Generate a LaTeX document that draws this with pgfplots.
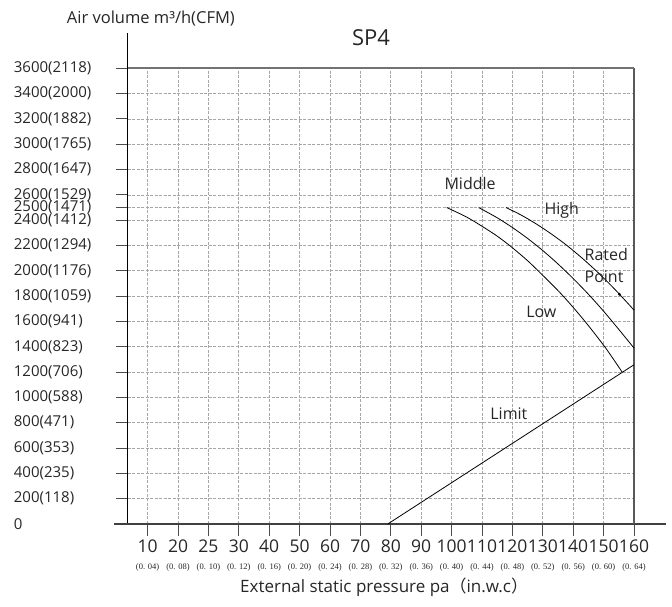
\documentclass[border=0pt]{standalone}
\usepackage{pgfplots}
\pgfplotsset{compat=1.18}
\usepackage{fontspec}
\setmainfont{Open Sans}
\newfontfamily\serifsmall{Liberation Serif}
\newfontfamily\cjk{Noto Sans CJK SC}
\newcommand{\sm}{\serifsmall\fontsize{8.5}{9}\selectfont}
\begin{document}
\begin{tikzpicture}[x=1pt,y=1pt]
\path[use as bounding box] (0,0) rectangle (672,607);
\node[anchor=base west, font=\fontsize{16.5}{19}\selectfont, text=black!85, inner sep=0pt] at (66.7,583) {Air volume m³/h(CFM)};
\node[font=\fontsize{22}{26}\selectfont, text=black!85] at (371,569) {SP4};
\node[anchor=base west, font=\fontsize{17}{19}\selectfont, text=black!85, inner sep=0pt] at (240,14) {External static pressure pa{\cjk （}in.w.c{\cjk ）}};
\begin{axis}[
  at={(127.7pt,83pt)}, anchor=south west,
  scale only axis, width=506.3pt, height=455.7pt,
  xmin=0.345, xmax=17, ymin=0, ymax=3600,
  clip=false,
  axis line style={draw=none},
  xtick={1,2,3,4,5,6,7,8,9,10,11,12,13,14,15,16,17},
  xticklabels={10,20,25,30,40,50,60,70,80,90,100,110,120,130,140,150,160},
  extra x ticks={1,2,3,4,5,6,7,8,9,10,11,12,13,14,15,16,17},
  extra x tick labels={(0. 04),(0. 08),(0. 10),(0. 12),(0. 16),(0. 20),(0. 24),(0. 28),(0. 32),(0. 36),(0. 40),(0. 44),(0. 48),(0. 52),(0. 56),(0. 60),(0. 64)},
  extra x tick style={major tick length=0pt, grid=none,
    xticklabel style={font=\sm, yshift=-35pt}},
  ytick={0,200,400,600,800,1000,1200,1400,1600,1800,2000,2200,2400,2500,2600,2800,3000,3200,3400,3600},
  yticklabels={0,200(118),400(235),600(353),800(471),1000(588),1200(706),1400(823),1600(941),1800(1059),
    2000(1176),2200(1294),2400(1412),2500(1471),2600(1529),2800(1647),3000(1765),3200(1882),3400(2000),3600(2118)},
  xtick pos=bottom, ytick pos=left,
  tick align=outside,
  major tick length=12pt,
  tick style={black!70, line width=1pt},
  grid=major,
  grid style={black!35, line width=0.7pt, dash pattern=on 3pt off 1.5pt},
  xticklabel style={font=\fontsize{17.5}{18}\selectfont, text=black!85, inner sep=0pt, yshift=-4pt},
  yticklabel style={anchor=west, font=\fontsize{15}{17}\selectfont, text=black!85, inner sep=0pt, xshift=-102pt},
]
% frame lines
\addplot[black, line width=1pt] coordinates {(0.345,0) (0.345,3877)};
\addplot[black!75, line width=1.3pt] coordinates {(-0.095,0) (18.06,0)};
\addplot[black!65, line width=1.5pt] coordinates {(17,0) (17,3600)};
\addplot[black!55, line width=1.8pt] coordinates {(0.345,3600) (17,3600)};
% curves
\addplot[black, line width=0.8pt, smooth] coordinates {
 (10.84,2500) (11.5,2424) (12.02,2349) (12.5,2274) (12.95,2192) (13.5,2080) (14.0,1964)
 (14.54,1834) (15.0,1711) (15.5,1567) (16.08,1386) (16.61,1200)};
\addplot[black, line width=0.8pt, smooth] coordinates {
 (11.89,2500) (12.5,2419) (13.0,2342) (13.5,2256) (14.0,2160) (14.5,2054) (15.0,1939)
 (15.5,1815) (16.0,1681) (16.5,1537) (17.0,1390)};
\addplot[black, line width=0.8pt, smooth] coordinates {
 (12.79,2500) (13.3,2439) (13.8,2368) (14.3,2288) (14.8,2199) (15.3,2099) (15.8,1990)
 (16.3,1871) (16.6,1795) (17.0,1690)};
\addplot[black, line width=0.8pt] coordinates {(8.9,0) (17,1258)};
\addplot[black, only marks, mark=*, mark size=1.3pt] coordinates {(16.52,1815)};
% labels
\node[anchor=base west, inner sep=0pt, font=\fontsize{16}{18}\selectfont, text=black!85] at (axis cs:10.76,2643) {Middle};
\node[anchor=base west, inner sep=0pt, font=\fontsize{16}{18}\selectfont, text=black!85] at (axis cs:14.05,2448) {High};
\node[anchor=base west, inner sep=0pt, font=\fontsize{16}{18}\selectfont, text=black!85] at (axis cs:15.37,2079) {Rated};
\node[anchor=base west, inner sep=0pt, font=\fontsize{16}{18}\selectfont, text=black!85] at (axis cs:15.37,1908) {Point};
\node[anchor=base west, inner sep=0pt, font=\fontsize{16}{18}\selectfont, text=black!85] at (axis cs:13.45,1632) {Low};
\node[anchor=base west, inner sep=0pt, font=\fontsize{16}{18}\selectfont, text=black!85] at (axis cs:12.27,829) {Limit};
\end{axis}
\end{tikzpicture}
\end{document}
